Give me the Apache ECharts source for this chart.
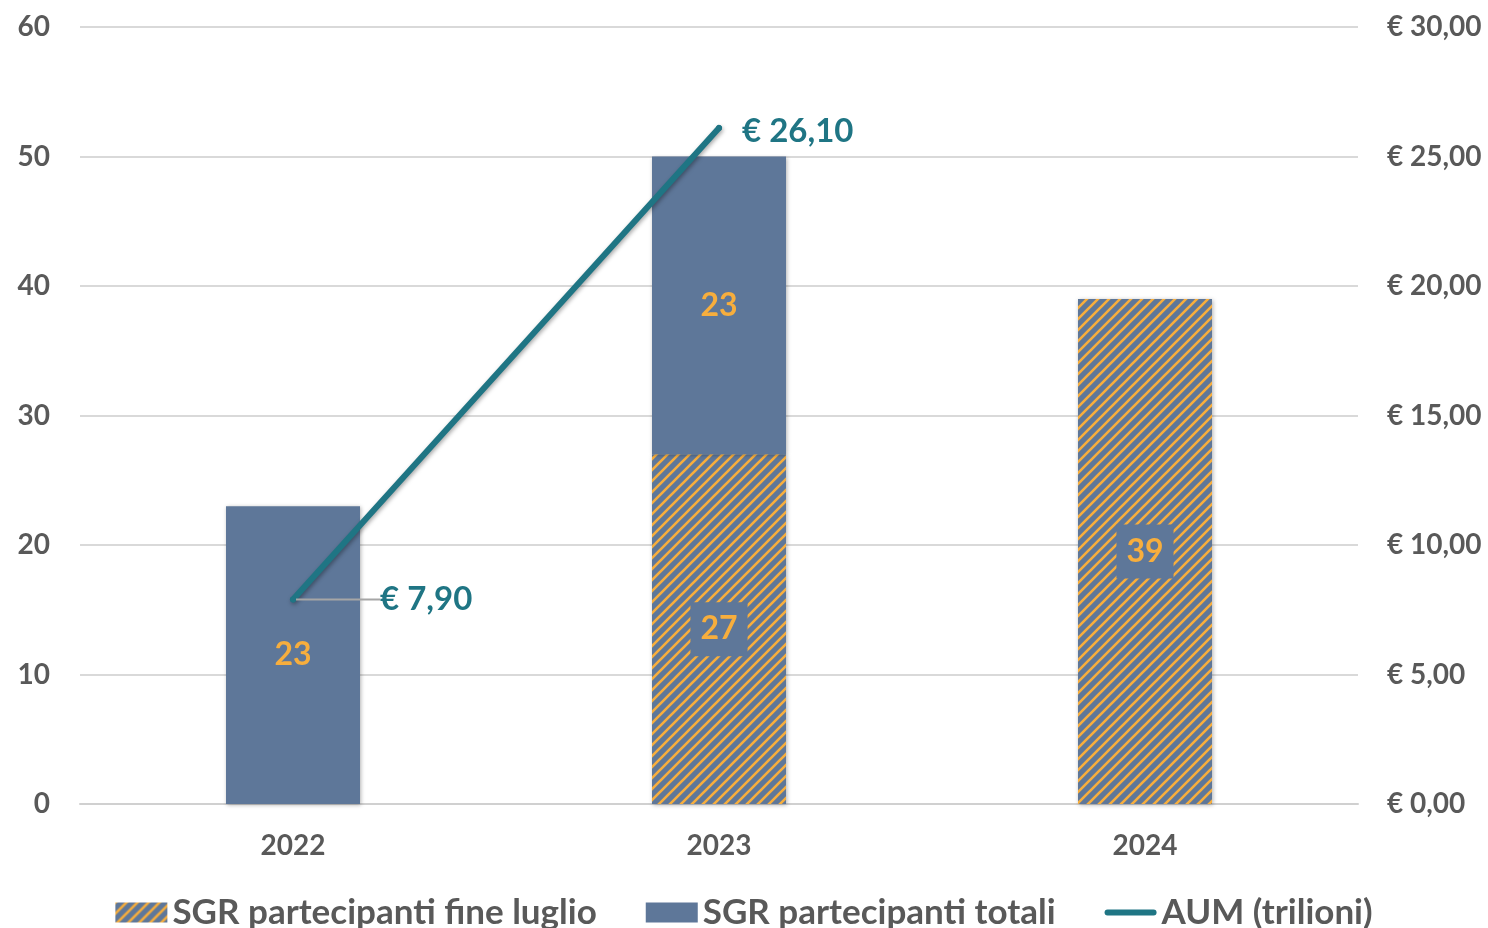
<!DOCTYPE html>
<html>
<head>
<meta charset="utf-8">
<script src="https://cdn.jsdelivr.net/npm/echarts@6/dist/echarts.min.js"></script>
<style>
  html, body { margin: 0; padding: 0; background: #fff; }
  #chart { width: 1488px; height: 928px; }
</style>
</head>
<body>
<div id="chart"></div>
<script>
const years = ['2022', '2023', '2024']
const fineLuglio = [null, 27, 39]
const totali = [23, 23, null]
const aum = [7.9, 26.1, null]

const BLUE = '#5e7799'
const ORANGE = '#f7ae3d'
const TEAL = '#1f7584'
const GREY_TEXT = '#595959'
const FONT = 'Lato'

// striped fill for the "fine luglio" bars
function makeStripes() {
  const size = 11
  const c = document.createElement('canvas')
  c.width = size
  c.height = size
  const ctx = c.getContext('2d')
  ctx.fillStyle = BLUE
  ctx.fillRect(0, 0, size, size)
  ctx.strokeStyle = ORANGE
  ctx.lineWidth = 2.6
  ctx.beginPath()
  ctx.moveTo(-2, size + 2); ctx.lineTo(size + 2, -2)
  ctx.moveTo(-2, 2); ctx.lineTo(2, -2)
  ctx.moveTo(size - 2, size + 2); ctx.lineTo(size + 2, size - 2)
  ctx.stroke()
  return c
}
const stripes = { image: makeStripes(), repeat: 'repeat' }

const euro = (v) => '€ ' + v.toFixed(2).replace('.', ',')

// thin rounded bar, with empty moveTo points so it keeps its place in the 52x20 box
const lineIcon = 'path://M0,0 M52,20 M3,7 L49,7 A3,3 0 0 1 49,13 L3,13 A3,3 0 0 1 3,7 Z'

const chart = echarts.init(document.getElementById('chart'))

const barShadow = {
  shadowBlur: 4,
  shadowColor: 'rgba(0,0,0,0.3)',
  shadowOffsetX: 1,
  shadowOffsetY: 1,
}

const axisText = { color: GREY_TEXT, fontSize: 28, fontWeight: 'bold' }

chart.setOption({
  animation: false,
  textStyle: { fontFamily: FONT },
  grid: { left: 80, right: 130, top: 27, bottom: 124 },
  legend: {
    top: 890,
    left: 'center',
    itemWidth: 52,
    itemHeight: 20,
    itemGap: 49,
    textStyle: { color: GREY_TEXT, fontSize: 35, fontWeight: 'bold', fontFamily: FONT },
    data: [
      { name: 'SGR partecipanti fine luglio', icon: 'rect' },
      { name: 'SGR partecipanti totali', icon: 'rect' },
      { name: 'AUM (trilioni)', icon: lineIcon },
    ],
  },
  xAxis: {
    type: 'category',
    data: years,
    axisTick: { show: false },
    axisLine: { lineStyle: { color: '#d0d0d0', width: 2 } },
    axisLabel: Object.assign({ margin: 28 }, axisText),
  },
  yAxis: [
    {
      type: 'value',
      min: 0,
      max: 60,
      interval: 10,
      axisLabel: Object.assign({ margin: 30 }, axisText),
      splitLine: { lineStyle: { color: '#d9d9d9', width: 2 } },
    },
    {
      type: 'value',
      min: 0,
      max: 30,
      interval: 5,
      axisLabel: Object.assign({ margin: 29, formatter: euro }, axisText),
      splitLine: { show: false },
    },
  ],
  series: [
    {
      name: 'SGR partecipanti fine luglio',
      type: 'bar',
      stack: 'sgr',
      barWidth: 134,
      data: fineLuglio,
      itemStyle: Object.assign({ color: stripes }, barShadow),
      label: {
        show: true,
        position: 'inside',
        color: ORANGE,
        fontSize: 32,
        fontWeight: 'bold',
        backgroundColor: BLUE,
        padding: [12, 10, 10, 10],
      },
    },
    {
      name: 'SGR partecipanti totali',
      type: 'bar',
      stack: 'sgr',
      barWidth: 134,
      data: totali,
      itemStyle: Object.assign({ color: BLUE }, barShadow),
      label: {
        show: true,
        position: 'inside',
        color: ORANGE,
        fontSize: 32,
        fontWeight: 'bold',
      },
    },
    {
      name: 'AUM (trilioni)',
      type: 'line',
      yAxisIndex: 1,
      data: aum.map((v, i) => {
        if (v == null) return v
        const item = { value: v, symbol: 'circle', symbolSize: 6 }
        if (i === 0) item.labelLine = { show: true, lineStyle: { color: '#a6a6a6', width: 2 } }
        return item
      }),
      symbol: 'none',
      z: 5,
      lineStyle: {
        color: TEAL,
        width: 6,
        cap: 'round',
        shadowBlur: 4,
        shadowColor: 'rgba(0,0,0,0.35)',
        shadowOffsetX: 1,
        shadowOffsetY: 2,
      },
      itemStyle: { color: TEAL },
      label: {
        show: true,
        position: 'right',
        distance: 20,
        color: TEAL,
        fontSize: 33,
        fontWeight: 'bold',
        formatter: (p) => euro(p.value),
      },
      labelLine: { show: false },
      labelLayout: (p) => (p.dataIndex === 0 ? { dx: 64 } : { dy: 3 }),
    },
  ],
})
</script>
</body>
</html>
